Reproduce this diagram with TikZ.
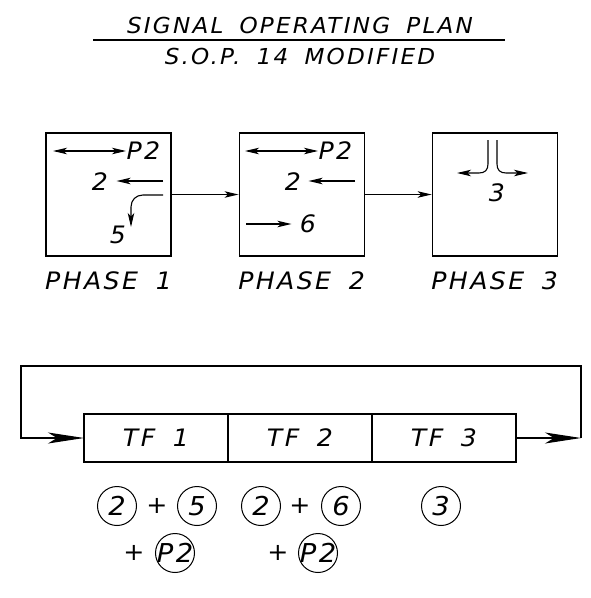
\documentclass[tikz,border=0pt]{standalone}
\usepackage{fontspec}
\newfontfamily\cadfont{DejaVu Sans}[FakeStretch=1.05, LetterSpace=10, WordSpace=1.7]
\usepackage{tikz}
\usetikzlibrary{positioning,arrows.meta,calc}

\begin{document}
\begin{tikzpicture}[
  x=1pt, y=-1pt,
  line width=1.1pt,
  >={Stealth[length=14pt, width=6.5pt, inset=3.5pt]},
  big/.style={-{Stealth[length=36pt, width=11pt, inset=9pt]}},
  txt/.style={font=\cadfont\itshape\fontsize{24}{28}\selectfont, inner sep=0pt},
  head/.style={font=\cadfont\itshape\fontsize{22}{26}\selectfont, inner sep=0pt},
  phase/.style={draw, minimum width=125pt, minimum height=123pt, inner sep=0pt},
  cell/.style={draw, txt, outer sep=0pt, minimum width=144pt, minimum height=48pt},
  ring/.style={draw, circle, txt, font=\cadfont\itshape\fontsize{26}{30}\selectfont,
    line width=1pt, minimum size=39pt}
]
\useasboundingbox (0,0) rectangle (590,598);

% ---------- title ----------
\node[head] (title) at (300,25) {SIGNAL OPERATING PLAN};
\node[head] (sop) at (300,56) {S.O.P. 14 MODIFIED};
\draw (93,40) -- (505,40);

% ---------- phases ----------
\node[phase] (ph1) at (108.5,194.5) {};
\node[phase, right=67pt of ph1] (ph2) {};
\node[phase, right=67pt of ph2] (ph3) {};
\node[txt, below=15pt of ph1] (lab1) {PHASE 1};
\node[txt, below=15pt of ph2] (lab2) {PHASE 2};
\node[txt, below=15pt of ph3] (lab3) {PHASE 3};
\draw[->] (ph1) -- (ph2);
\draw[->] (ph2) -- (ph3);

% phase 1
\node[txt, anchor=west] (p1ped) at (126,151) {P2};
\node[txt] (p1two) at (100,182) {2};
\node[txt] (p1five) at (118,235) {5};
\draw[<->] (53,151) -- (p1ped.west);
\draw[->] (163,181) -- ($(p1two.east)+(8,-1)$);
\draw[->] (163,195) -- (143,195) .. controls (136,195) and (131,200) .. (131,207) -- (131,227);

% phase 2
\node[txt, anchor=west] (p2ped) at (318,151) {P2};
\node[txt] (p2two) at (293,182) {2};
\node[txt] (p2six) at (308,224) {6};
\draw[<->] (245,151) -- (p2ped.west);
\draw[->] (355,181) -- ($(p2two.east)+(7,-1)$);
\draw[->] (246,224) -- ($(p2six.west)+(-8,0)$);

% phase 3
\node[txt] (p3three) at (497,193) {3};
\draw[->] (488,140) -- (488,164) .. controls (488,170) and (485,173) .. (479,173) -- (457,173);
\draw[->] (497,140) -- (497,164) .. controls (497,170) and (500,173) .. (506,173) -- (528,173);

% ---------- timing ----------
\node[cell] (tf1) at (156,438) {TF 1};
\node[cell, right=0pt of tf1] (tf2) {TF 2};
\node[cell, right=0pt of tf2] (tf3) {TF 3};
\coordinate (rc) at (581,438);
\coordinate (lc) at (21,438);
\draw[big] (tf3.east) -- (rc);
\draw[big] (rc) -- ++(0,-72) -| (lc) -- (tf1.west);

% ---------- movements ----------
\node[ring] (r2a) at (117,506) {2};
\node[txt] (pl1) at (157,506) {+};
\node[ring] (r5) at (197,506) {5};
\node[ring] (r2b) at (261,506) {2};
\node[txt] (pl2) at (300,506) {+};
\node[ring] (r6) at (341,506) {6};
\node[ring] (r3) at (441,506) {3};
\node[txt] (pl3) at (134,553) {+};
\node[ring] (rpa) at (175,553) {\makebox[20pt]{P2}};
\node[txt] (pl4) at (278,553) {+};
\node[ring] (rpb) at (318,553) {\makebox[20pt]{P2}};
\end{tikzpicture}
\end{document}
